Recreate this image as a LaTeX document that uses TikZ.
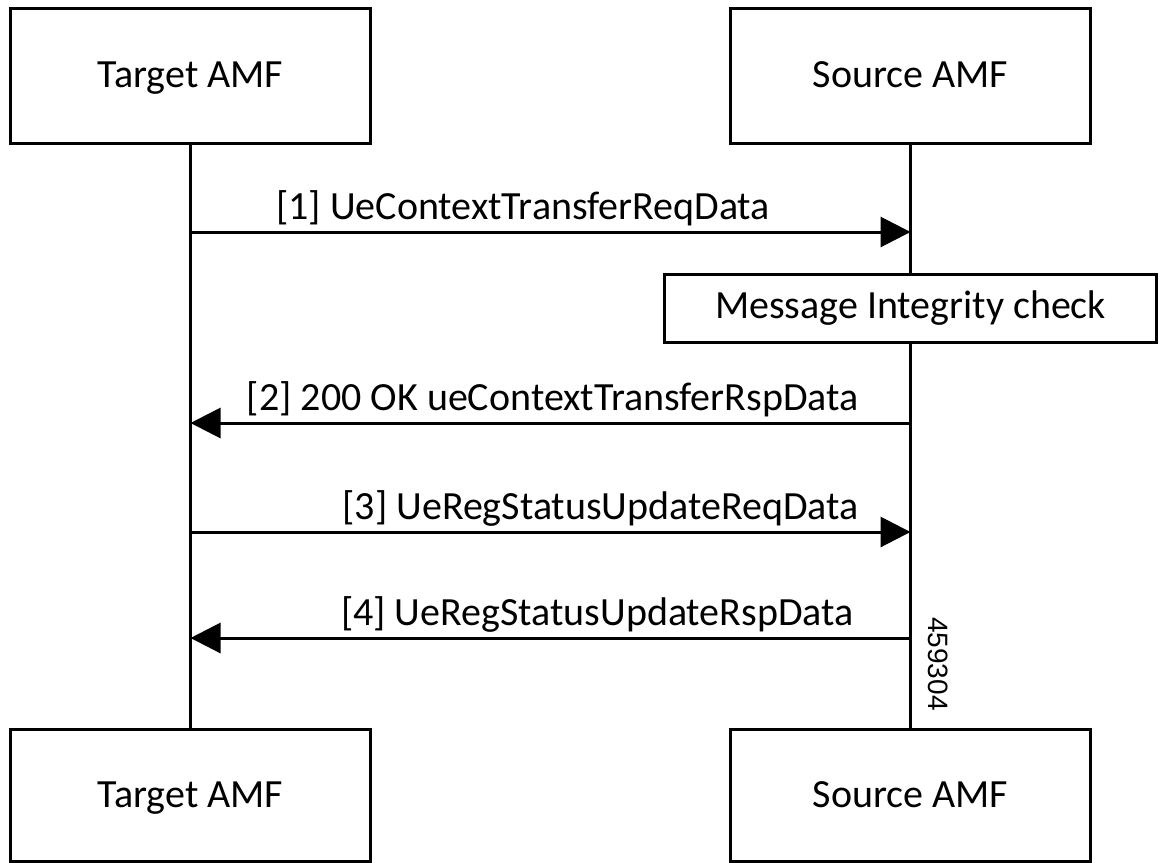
\documentclass[tikz,border=0pt]{standalone}
\usepackage{fontspec}
\setmainfont{Carlito}
\newfontfamily\numfont{Liberation Sans}
\usetikzlibrary{arrows.meta}
\begin{document}
\begin{tikzpicture}[x=0.5pt,y=-0.5pt,
   font=\fontsize{20}{24}\selectfont,
   entity/.style={draw,line width=1.5pt,minimum width=180pt,minimum height=67.5pt,inner sep=0pt,outer sep=0pt,text height=16pt,text depth=4pt},
   check/.style={draw,fill=white,line width=1.5pt,minimum width=246pt,minimum height=34pt,inner sep=0pt},
   life/.style={line width=1.5pt},
   msg/.style={-{Triangle[length=15pt,width=15pt]},line width=1.5pt},
   lbl/.style={yshift=6.5pt,inner sep=0pt}]
\useasboundingbox (0,0) rectangle (1160,862);
% participants
\node[entity] (TgtTop) at (190.5,75.5) {Target AMF};
\node[entity] (SrcTop) at (910.5,75.5) {Source AMF};
\node[entity,minimum height=65.75pt] (TgtBot) at (190.5,795.25) {Target AMF};
\node[entity,minimum height=65.75pt] (SrcBot) at (910.5,795.25) {Source AMF};
% lifelines
\draw[life] (TgtTop) -- (TgtBot);
\draw[life] (SrcTop) -- (SrcBot);
\node[check] (Check) at (910.5,308.5) {Message Integrity check};
% message ends
\coordinate (T1) at (190.5,232); \coordinate (S1) at (910.5,232);
\coordinate (T2) at (190.5,423); \coordinate (S2) at (910.5,423);
\coordinate (T3) at (190.5,532); \coordinate (S3) at (910.5,532);
\coordinate (T4) at (190.5,638); \coordinate (S4) at (910.5,638);
\draw[msg] (T1) -- node[pos=0.462,anchor=base,lbl] {[1] UeContextTransferReqData} (S1);
\draw[msg] (S2) -- node[pos=0.07,anchor=base east,lbl] {[2] 200 OK ueContextTransferRspData} (T2);
\draw[msg] (T3) -- node[pos=0.93,anchor=base east,lbl] {[3] UeRegStatusUpdateReqData} (S3);
\draw[msg] (S4) -- node[pos=0.077,anchor=base east,lbl] {[4] UeRegStatusUpdateRspData} (T4);
\node[rotate=-90,font=\numfont\fontsize{14}{16}\selectfont] (FigNum) at (938,664) {459304};
\end{tikzpicture}
\end{document}
